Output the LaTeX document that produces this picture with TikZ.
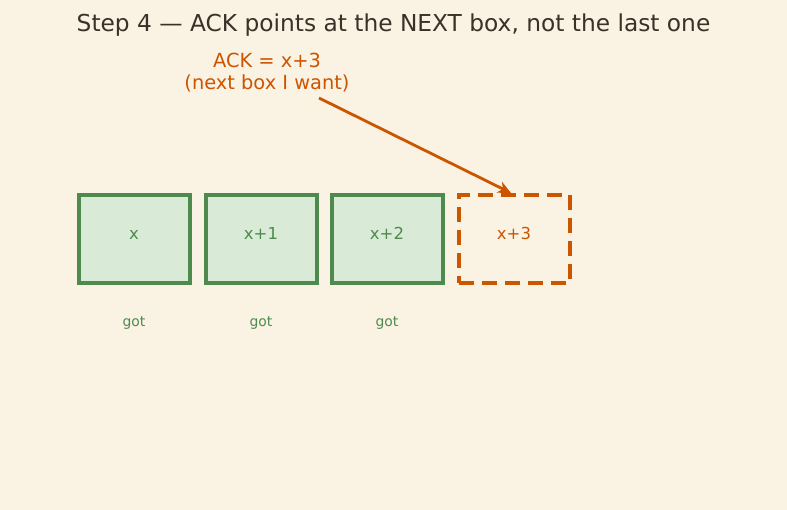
\documentclass[tikz,border=0pt]{standalone}
\usepackage{fontspec}
\setmainfont{DejaVu Sans}
\usetikzlibrary{arrows.meta}
\definecolor{bg}{HTML}{FAF2E3}
\definecolor{grn}{HTML}{4E8A4E}
\definecolor{grnfill}{HTML}{D9EBD6}
\definecolor{org}{HTML}{CC5500}
\definecolor{ttl}{HTML}{3A3228}
\tikzset{
  boxbase/.style={line width=4pt, minimum width=111pt, minimum height=88pt, inner sep=0pt, text height=12pt, text depth=11pt, font=\fontsize{16.5}{20}\selectfont},
  gotbox/.style={boxbase, draw=grn, fill=grnfill, text=grn},
  wantbox/.style={boxbase, draw=org, dash pattern=on 15pt off 8pt, text=org},
  gotlabel/.style={text=grn, font=\fontsize{13.9}{16}\selectfont},
  acklabel/.style={text=org, align=center, font=\fontsize{19.4}{22}\selectfont},
  ackarrow/.style={draw=org, line width=2.8pt, -{Stealth[length=13pt,width=12pt,inset=4pt]}}
}
\begin{document}
\begin{tikzpicture}[x=1pt,y=-1pt]
\fill[bg] (0,0) rectangle (787,510);
\useasboundingbox (0,0) rectangle (787,510);
\node[text=ttl, font=\fontsize{23.3}{28}\selectfont] (title) at (393.5,25) {Step 4 — ACK points at the NEXT box, not the last one};
\node[gotbox] (b0) at (134,239.5) {x};
\node[gotbox] (b1) at (261,239.5) {x+1};
\node[gotbox] (b2) at (387,239.5) {x+2};
\node[wantbox] (b3) at (514,239.5) {x+3};
\node[gotlabel] (g0) at (134,323) {got};
\node[gotlabel] (g1) at (261,323) {got};
\node[gotlabel] (g2) at (387,323) {got};
\node[acklabel] (ack) at (267,72.5) {ACK = x+3\\(next box I want)};
\coordinate (tip) at (511,193);
\coordinate (start) at (319,98);
\draw[ackarrow] (start) -- (tip);
\end{tikzpicture}
\end{document}
